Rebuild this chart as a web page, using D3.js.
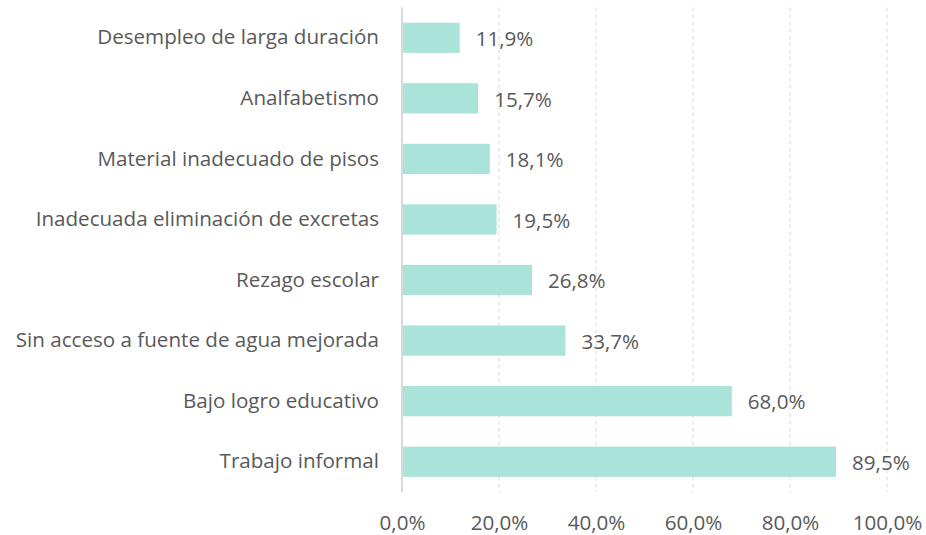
<!DOCTYPE html>
<html>
<head>
<meta charset="utf-8">
<script src="https://cdn.jsdelivr.net/npm/d3@7"></script>
<style>
  body { margin: 0; background: #fff; }
  text { font-family: "Open Sans", sans-serif; fill: #595959; }
</style>
</head>
<body>
<div class="chart"></div>
<script>
// data
const categories = [
  "Desempleo de larga duración",
  "Analfabetismo",
  "Material inadecuado de pisos",
  "Inadecuada eliminación de excretas",
  "Rezago escolar",
  "Sin acceso a fuente de agua mejorada",
  "Bajo logro educativo",
  "Trabajo informal"
];
const values = [11.9, 15.7, 18.1, 19.5, 26.8, 33.7, 68.0, 89.5];
const tickValues = [0, 20, 40, 60, 80, 100];

const Margin = { top: 7.5, right: 39, bottom: 43, left: 402 };
const Width = 926 - Margin.left - Margin.right;
const Height = 535 - Margin.top - Margin.bottom;
const fontSize = "20.6px";

const fmt = v => d3.format(".1f")(v).replace(".", ",") + "%";

var svg = d3.select(".chart").append("svg")
    .attr("width", 926)
    .attr("height", 535)
  .append("g")
    .attr("transform", "translate(" + Margin.left + "," + Margin.top + ")");

const x = d3.scaleLinear().domain([0, 100]).range([0, Width]);
const y = d3.scaleBand().domain(categories).range([0, Height]).paddingInner(0.5).paddingOuter(0.25);

// gridlines
svg.selectAll(".grid")
  .data(tickValues.slice(1))
  .enter().append("line")
    .attr("x1", d => x(d)).attr("x2", d => x(d))
    .attr("y1", 0).attr("y2", Height)
    .style("stroke", "#d9d9d9")
    .style("stroke-dasharray", "4,3")
    .style("stroke-width", 1);

// bars
svg.selectAll(".bar")
  .data(values)
  .enter().append("rect")
    .attr("x", 0)
    .attr("y", (d, i) => y(categories[i]))
    .attr("width", d => x(d))
    .attr("height", y.bandwidth())
    .style("fill", "#aae3da");

// value labels
svg.selectAll(".val")
  .data(values)
  .enter().append("text")
    .attr("x", d => x(d) + 16)
    .attr("y", (d, i) => y(categories[i]) + y.bandwidth() / 2 + 1)
    .attr("dy", ".35em")
    .style("font-size", fontSize)
    .text(d => fmt(d));

// y axis
const yAxis = svg.append("g")
  .call(d3.axisLeft(y).tickSize(0).tickPadding(23));
yAxis.select(".domain").style("stroke", "#d9d9d9").style("stroke-width", 2)
  .attr("d", "M0,0V" + Height);
yAxis.selectAll("text").style("font-size", fontSize).style("fill", "#595959")
  .style("font-family", "'Open Sans', sans-serif");

// x axis
const xAxis = svg.append("g")
  .attr("transform", "translate(0," + Height + ")")
  .call(d3.axisBottom(x).tickValues(tickValues).tickSize(0).tickPadding(23).tickFormat(fmt));
xAxis.select(".domain").remove();
xAxis.selectAll("text").style("font-size", fontSize).style("fill", "#595959")
  .style("font-family", "'Open Sans', sans-serif");
</script>
</body>
</html>
